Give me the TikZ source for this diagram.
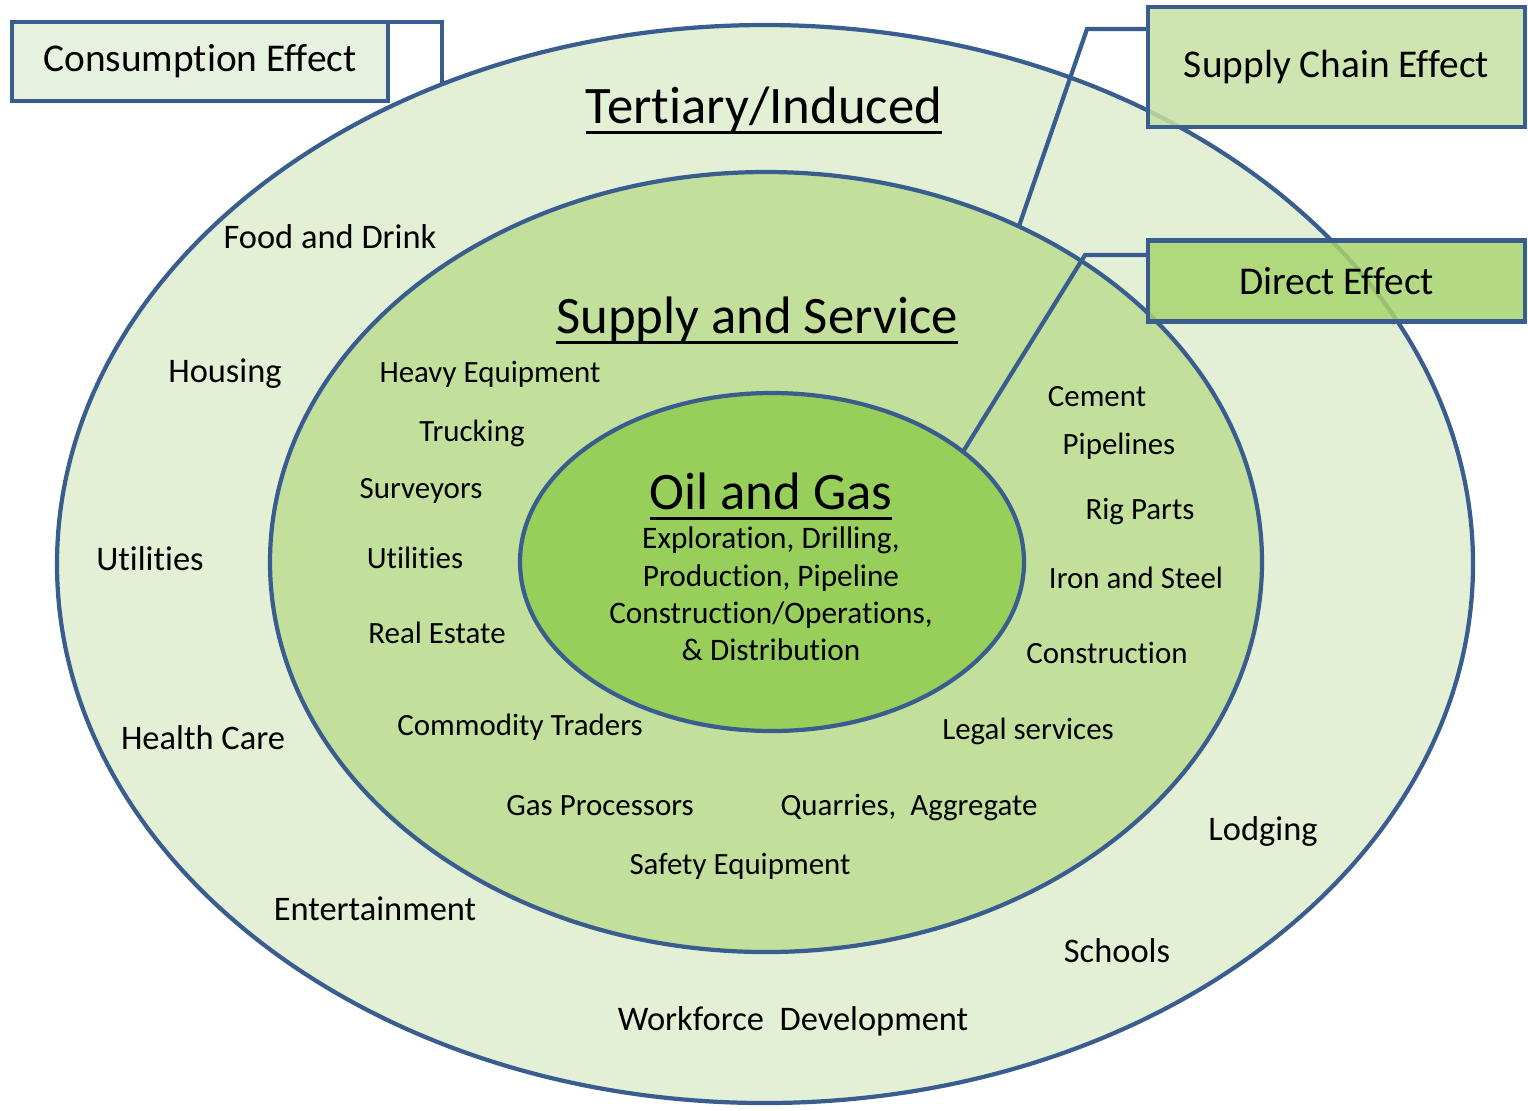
\documentclass[tikz,border=0pt]{standalone}
\usepackage{fontspec}
\setmainfont{Carlito}[Ligatures=NoCommon]
\usetikzlibrary{shapes.geometric}

\definecolor{rim}{RGB}{58,93,143}
\definecolor{ringout}{RGB}{227,240,214}
\definecolor{ringmid}{RGB}{194,224,155}
\definecolor{ringin}{RGB}{152,206,90}
\definecolor{boxone}{RGB}{226,239,218}
\definecolor{boxtwo}{RGB}{197,224,164}
\definecolor{boxthree}{RGB}{168,212,110}

\newcommand{\titleline}[1]{\setbox0=\hbox{#1}\rlap{\rule[-0.2em]{\wd0}{0.055em}}\box0}

\tikzset{
  ring/.style={ellipse, draw=rim, line width=1.2pt, inner sep=0pt, outer sep=0pt},
  effect/.style={rectangle, draw=rim, line width=1.4pt, inner sep=0pt, outer sep=0pt,
    fill opacity=0.85, text opacity=1, minimum width=3.77cm,
    font=\fontsize{11.2}{13}\selectfont},
  hook/.style={draw=rim, line width=1.2pt},
  title/.style={anchor=base, font=\fontsize{15}{17}\selectfont},
  outerlbl/.style={anchor=base, font=\fontsize{9.8}{11}\selectfont},
  midlbl/.style={anchor=base, font=\fontsize{8.8}{10}\selectfont},
}

\begin{document}
\begin{tikzpicture}
      \useasboundingbox (0,0) rectangle (15.28,-11.10);
      % the three rings
      \node[ring, fill=ringout, minimum width=14.16cm, minimum height=10.78cm] (tertiary) at (7.65,-5.64) {};
      \node[ring, fill=ringmid, minimum width=9.92cm, minimum height=7.80cm] (supply) at (7.66,-5.62) {};
      \node[ring, fill=ringin, minimum width=5.04cm, minimum height=3.38cm] (oilgas) at (7.72,-5.62) {};

      % effect boxes
      \node[effect, fill=boxone, minimum width=3.76cm, minimum height=0.79cm] (consumption) at (2.00,-0.615) {Consumption Effect};
      \node[effect, fill=boxtwo, minimum height=1.20cm] (chain) at (13.365,-0.67) {Supply Chain Effect};
      \node[effect, fill=boxthree, minimum height=0.81cm] (direct) at (13.365,-2.81) {Direct Effect};

      % connectors to the effect boxes
      \coordinate (chainbend) at (10.87,-0.29);
      \coordinate (directbend) at (10.85,-2.55);
      \begin{scope}[hook]
        \draw (consumption.north east) -| (tertiary.124.5);
        \draw (chain.west |- chainbend) -- (chainbend) -- (supply.53.5);
        \draw (direct.west |- directbend) -- (directbend) -- (oilgas.30.4);
      \end{scope}

      % ring titles
      \node[title, font=\fontsize{15}{17}\selectfont] (tertiarytitle) at (7.64,-1.23) {\titleline{Tertiary/Induced}};
      \node[title] (supplytitle) at (7.57,-3.33) {\titleline{Supply and Service}};
      \node[title] (oilgastitle) at (7.71,-5.09) {\titleline{Oil and Gas}};
      \node[font=\fontsize{8.9}{10.6}\selectfont, align=center] (oilgastext) at (7.71,-5.94)
        {Exploration, Drilling,\\Production, Pipeline\\Construction/Operations,\\\& Distribution};

      % tertiary / induced
      \node[outerlbl] (food) at (3.30,-2.48) {Food and Drink};
      \node[outerlbl] (housing) at (2.25,-3.82) {Housing};
      \node[outerlbl] (utilout) at (1.50,-5.70) {Utilities};
      \node[outerlbl] (health) at (2.03,-7.49) {Health Care};
      \node[outerlbl] (entertain) at (3.75,-9.20) {Entertainment};
      \node[outerlbl] (workforce) at (7.93,-10.30) {Workforce~ Development};
      \node[outerlbl] (schools) at (11.17,-9.62) {Schools};
      \node[outerlbl] (lodging) at (12.63,-8.40) {Lodging};

      % supply and service
      \node[midlbl] (heavy) at (4.90,-3.82) {Heavy Equipment};
      \node[midlbl] (trucking) at (4.72,-4.41) {Trucking};
      \node[midlbl] (surveyors) at (4.21,-4.98) {Surveyors};
      \node[midlbl] (utilmid) at (4.15,-5.68) {Utilities};
      \node[midlbl] (realestate) at (4.37,-6.43) {Real Estate};
      \node[midlbl] (traders) at (5.20,-7.35) {Commodity Traders};
      \node[midlbl] (gasproc) at (6.00,-8.15) {Gas Processors};
      \node[midlbl] (safety) at (7.40,-8.74) {Safety Equipment};
      \node[midlbl] (quarries) at (9.09,-8.15) {Quarries,~ Aggregate};
      \node[midlbl] (legal) at (10.28,-7.39) {Legal services};
      \node[midlbl] (construct) at (11.07,-6.63) {Construction};
      \node[midlbl] (iron) at (11.36,-5.88) {Iron and Steel};
      \node[midlbl] (rig) at (11.40,-5.19) {Rig Parts};
      \node[midlbl] (pipelines) at (11.19,-4.54) {Pipelines};
      \node[midlbl] (cement) at (10.97,-4.06) {Cement};
    \end{tikzpicture}
\end{document}
